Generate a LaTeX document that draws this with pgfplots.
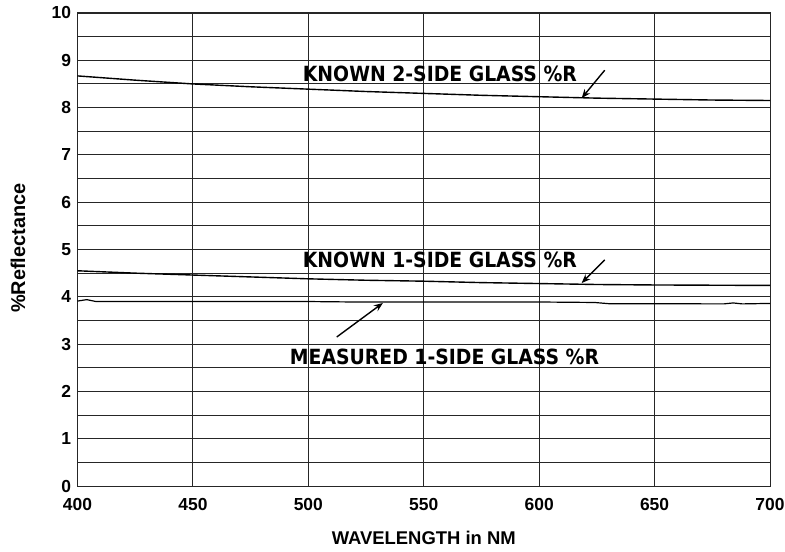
\documentclass[border=0pt]{standalone}
\usepackage{pgfplots}
\pgfplotsset{compat=1.18}
\usepackage{fontspec}
\setmainfont{Liberation Sans}
\newfontfamily\annfont{DejaVu Sans Condensed}
\usetikzlibrary{arrows.meta}
\begin{document}
\begin{tikzpicture}
\begin{axis}[
  scale only axis,
  width=692.5bp, height=473bp,
  xmin=400, xmax=700, ymin=0, ymax=10,
  xtick={400,450,...,700},
  ytick={0,1,...,10},
  minor ytick={0.5,1.5,...,9.5},
  grid=both,
  major grid style={black!85, line width=0.9pt},
  minor grid style={black!85, line width=0.9pt},
  axis line style={black!85, line width=1pt},
  tick style={draw=none},
  /pgf/number format/assume math mode=true,
  ticklabel style={font=\bfseries\fontsize{17.5}{20}\selectfont},
  yticklabel style={xshift=-3bp},
  xticklabel style={yshift=-9bp},
  xlabel={WAVELENGTH in NM},
  ylabel={\%Reflectance},
  xlabel style={font=\bfseries\fontsize{18.5}{20}\selectfont, at={(axis description cs:0.5,-0.11)}, anchor=center},
  ylabel style={font=\bfseries\fontsize{20}{22}\selectfont, at={(axis description cs:-0.086,0.503)}, anchor=center},
  clip=false,
]
\addplot[black, line width=1.4pt] coordinates {
(400,8.67) (425,8.58) (450,8.50) (475,8.44) (500,8.39) (525,8.34) (550,8.30) (575,8.26) (600,8.23) (625,8.20) (650,8.18) (675,8.16) (700,8.15)};
\addplot[black, line width=1.4pt] coordinates {
(400,4.55) (425,4.50) (450,4.46) (475,4.42) (500,4.38) (525,4.35) (550,4.33) (575,4.30) (600,4.28) (625,4.26) (650,4.25) (675,4.245) (700,4.24)};
\addplot[black, line width=1.2pt] coordinates {
(400,3.91) (404,3.94) (408,3.90) (450,3.90) (500,3.90) (520,3.89) (560,3.89) (600,3.89) (624,3.88) (630,3.855) (680,3.85) (684,3.87) (688,3.85) (700,3.86)};
\node[font=\annfont\bfseries\fontsize{21}{24}\selectfont, anchor=center] at (axis cs:557,8.72) {KNOWN 2-SIDE GLASS \%R};
\node[font=\annfont\bfseries\fontsize{21}{24}\selectfont, anchor=center] at (axis cs:557,4.78) {KNOWN 1-SIDE GLASS \%R};
\node[font=\annfont\bfseries\fontsize{21}{24}\selectfont, anchor=center] at (axis cs:559,2.73) {MEASURED 1-SIDE GLASS \%R};
\draw[black, line width=1.4pt, -{Stealth[length=9bp,width=7bp]}] (axis cs:628.4,8.79) -- (axis cs:618.4,8.20);
\draw[black, line width=1.4pt, -{Stealth[length=9bp,width=7bp]}] (axis cs:628.4,4.78) -- (axis cs:618.4,4.29);
\draw[black, line width=1.4pt, -{Stealth[length=9bp,width=7bp]}] (axis cs:512.3,3.15) -- (axis cs:532.3,3.87);
\end{axis}
\pgfresetboundingbox
\path[use as bounding box] (-77.5bp,-66bp) rectangle (707.5bp,486bp);
\end{tikzpicture}
\end{document}
